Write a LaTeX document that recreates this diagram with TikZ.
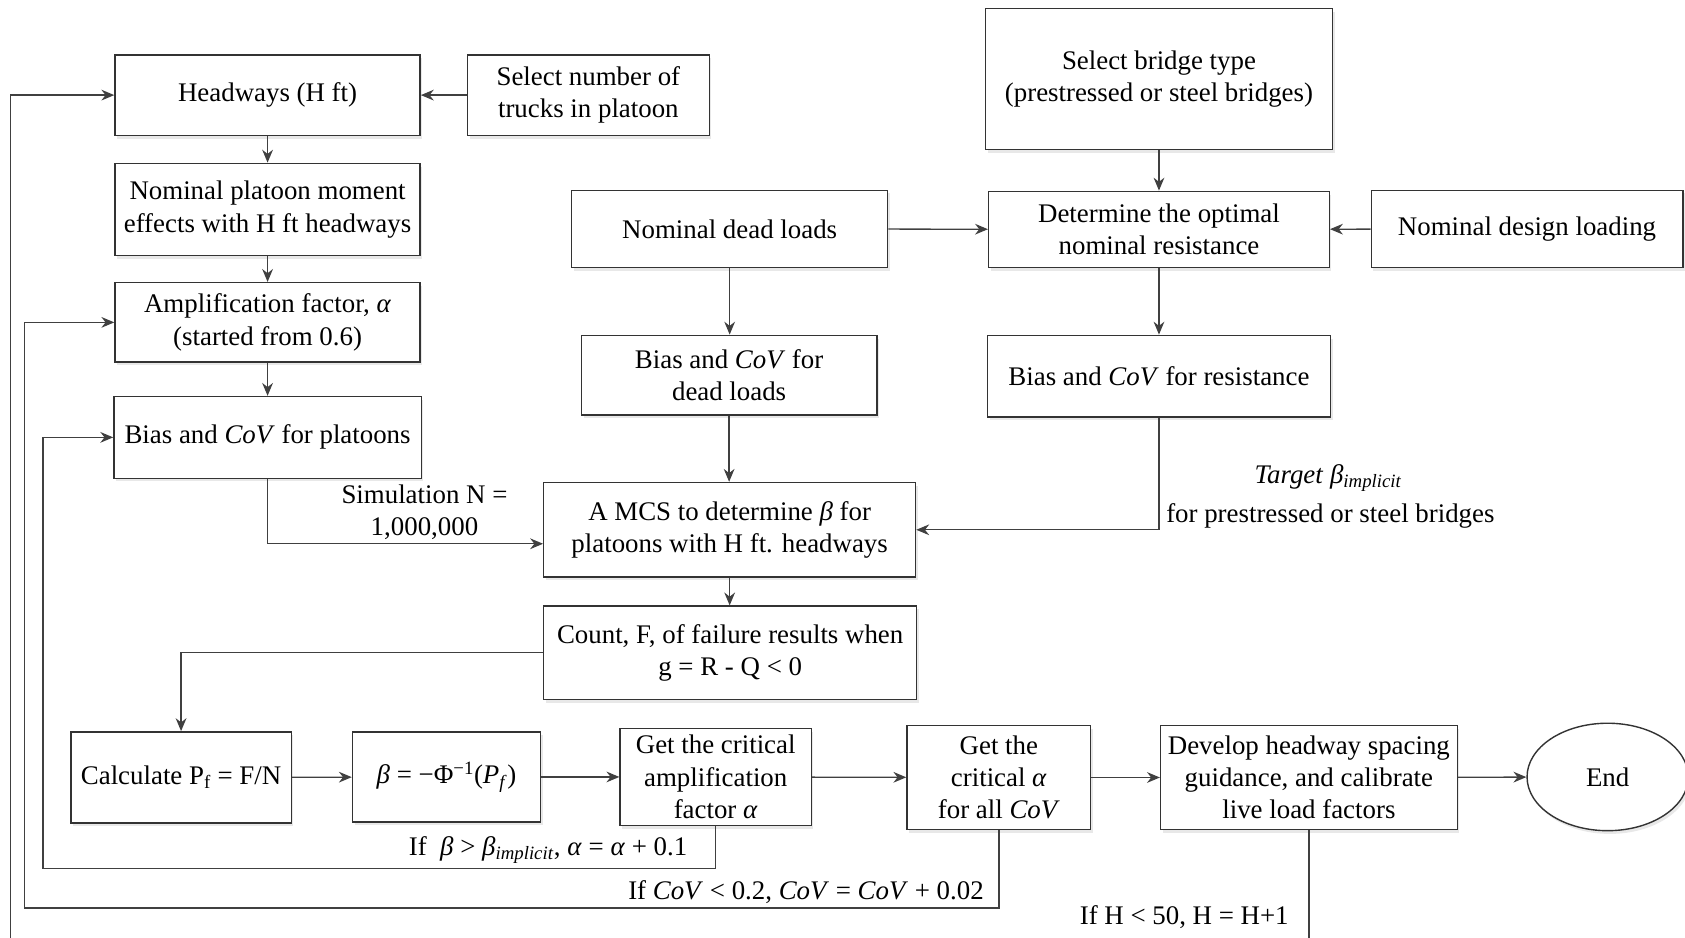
\documentclass[tikz,border=0pt]{standalone}
\usepackage{fontspec}
\setmainfont{Liberation Serif}
\usetikzlibrary{arrows.meta,shapes.geometric,shadows,calc}
\newcommand{\impl}{\textit{β}\textsubscript{\textit{implicit}}}
\begin{document}
\begin{tikzpicture}[x=1pt,y=-1pt,
  box/.style={draw=black!80, line width=1.3pt, fill=white, align=center, inner sep=3pt,
    font=\fontsize{25}{30}\selectfont,
    drop shadow={opacity=0.18,shadow xshift=2pt,shadow yshift=-3pt}},
  conn/.style={draw=black!75, line width=1.2pt, -{Stealth[length=12pt,width=10pt]}},
  plain/.style={draw=black!75, line width=1.2pt},
  lbl/.style={font=\fontsize{25}{30}\selectfont, align=center, inner sep=0pt}]
\useasboundingbox (0,0) rectangle (1568,872);

% boxes
\node[box, minimum width=284pt, minimum height=75pt] (head) at (249,88.5) {Headways (H ft)};
\node[box, minimum width=225pt, minimum height=75pt] (sel) at (547.5,88.5) {Select number of\\trucks in platoon};
\node[box, minimum width=323pt, minimum height=131pt] (bridge) at (1078.5,73.5) {Select bridge type\\(prestressed or steel bridges)};
\node[box, minimum width=284pt, minimum height=86pt] (nom) at (249,195) {Nominal platoon moment\\effects with H ft headways};
\node[box, minimum width=294pt, minimum height=72pt] (dead) at (679,213) {Nominal dead loads};
\node[box, minimum width=317pt, minimum height=71pt] (det) at (1078.5,213.5) {Determine the optimal\\nominal resistance};
\node[box, minimum width=290pt, minimum height=72pt] (design) at (1421,213) {Nominal design loading};
\node[box, minimum width=284pt, minimum height=74pt] (amp) at (249,300) {Amplification factor, \textit{α}\\(started from 0.6)};
\node[box, minimum width=275pt, minimum height=74pt] (biasd) at (678.5,349) {Bias and \textit{CoV} for\\dead loads};
\node[box, minimum width=319pt, minimum height=76pt] (biasr) at (1078.5,350) {Bias and \textit{CoV} for resistance};
\node[box, minimum width=286pt, minimum height=76pt] (biasp) at (249,407) {Bias and \textit{CoV} for platoons};
\node[box, minimum width=346pt, minimum height=88pt] (mcs) at (679,493) {A MCS to determine \textit{β} for\\platoons with H ft. headways};
\node[box, minimum width=347pt, minimum height=87pt] (count) at (679.5,607.5) {Count, F, of failure results when\\g = R - Q {<} 0};
\node[box, minimum width=205pt, minimum height=85pt] (calc) at (168.5,723.5) {Calculate P\textsubscript{f} = F/N};
\node[box, minimum width=175pt, minimum height=84pt] (beta) at (415.5,723) {\textit{β} = −Φ\textsuperscript{−1}(\textit{P}\textsubscript{\textit{f}})};
\node[box, minimum width=178pt, minimum height=90pt] (crit) at (666,723) {Get the critical\\amplification\\factor \textit{α}};
\node[box, minimum width=171pt, minimum height=97pt] (crita) at (929.5,723.5) {Get the\\critical \textit{α}\\for all \textit{CoV}};
\node[box, minimum width=276pt, minimum height=97pt] (dev) at (1218,723.5) {Develop headway spacing\\guidance, and calibrate\\live load factors};
\node[box, ellipse, minimum width=150pt, minimum height=100pt] (end) at (1496,723) {End};

% labels
\node[lbl] (sim) at (395,477) {Simulation N =\\1,000,000};
\node[lbl] (tgt) at (1236,445) {\textit{Target} \impl};
\node[lbl] (tgt2) at (1238,480) {for prestressed or steel bridges};
\node[lbl] (ifb) at (510,791) {If \ \textit{β} > \impl, \textit{α} = \textit{α} + 0.1};
\node[lbl] (ifc) at (750,830) {If \textit{CoV} < 0.2, \textit{CoV} = \textit{CoV} + 0.02};
\node[lbl] (ifh) at (1102,853) {If H < 50, H = H+1};

% coordinates
\coordinate (lb) at (40,808);
\coordinate (lc) at (23,845);
\coordinate (la) at (10,880);

% connectors
\draw[conn] (sel) -- (head);
\draw[conn] (head) -- (nom);
\draw[conn] (nom) -- (amp);
\draw[conn] (amp) -- (biasp);
\draw[conn] (biasp.south) |- ($(mcs.west)+(0,13)$);
\draw[conn] (dead.south) -- (dead.south |- biasd.north);
\draw[conn] (biasd.south) -- (biasd.south |- mcs.north);
\draw[conn] (dead) -- (det);
\draw[conn] (bridge) -- (det);
\draw[conn] (design) -- (det);
\draw[conn] (det) -- (biasr);
\draw[conn] (biasr.south) |- (mcs.east);
\draw[conn] (mcs.south) -- (mcs.south |- count.north);
\draw[conn] (count.west) -| (calc.north);
\draw[conn] (calc) -- (beta);
\draw[conn] (beta) -- (crit);
\draw[conn] (crit) -- (crita);
\draw[conn] (crita) -- (dev);
\draw[conn] (dev) -- (end);
\draw[conn] (crit.south) |- (lb) |- (biasp.west);
\draw[conn] (crita.south) |- (lc) |- (amp.west);
\draw[plain] (dev.south) -- (dev.south |- la);
\draw[conn] (la) |- (head.west);
\end{tikzpicture}
\end{document}
